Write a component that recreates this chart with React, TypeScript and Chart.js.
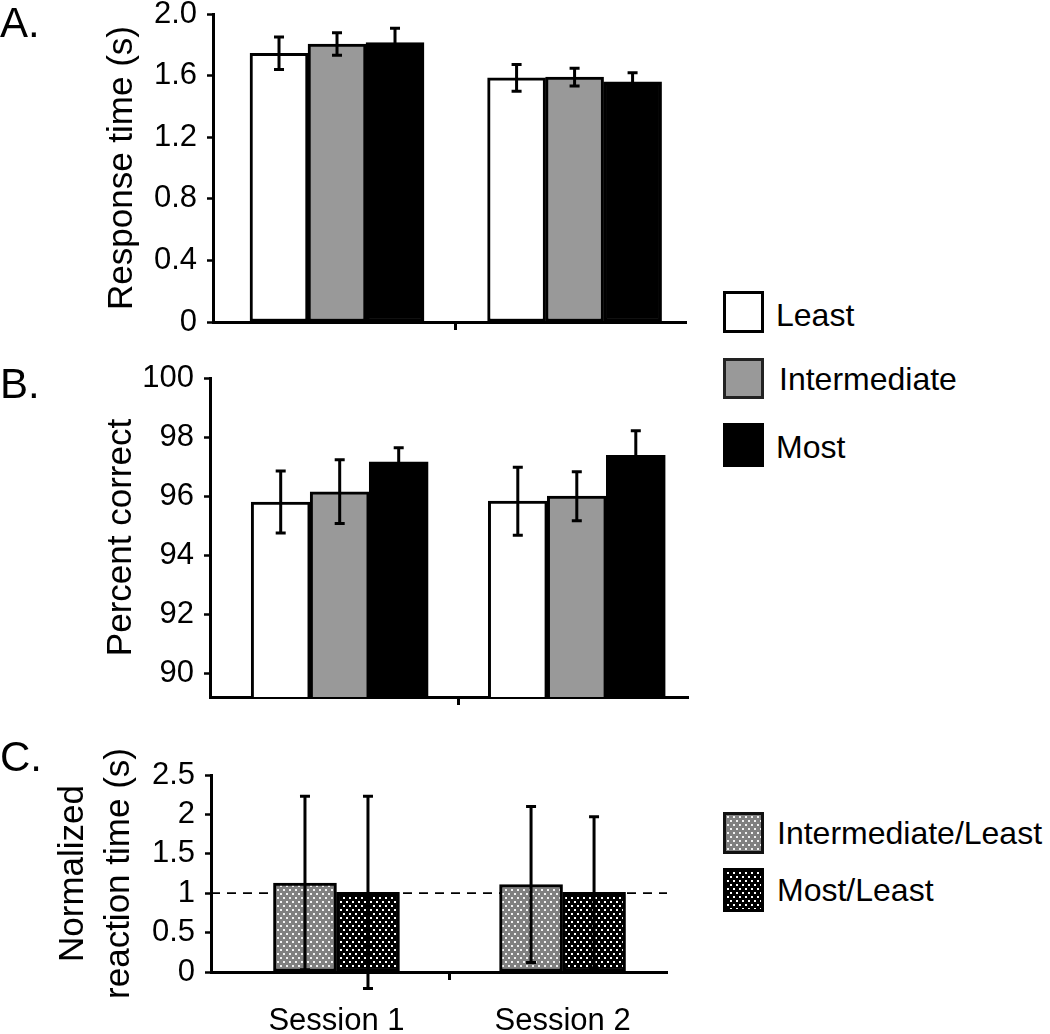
import React, { useEffect, useRef, useState } from 'react';
import { Chart, registerables } from 'chart.js';

Chart.register(...registerables);

// ---------- data ----------
const sessions = ['Session 1', 'Session 2'];
const sessionPos = [1, 2];
const dividerPos = 1.5;

const conditionLabels = ['Least', 'Intermediate', 'Most'];
const ratioLabels = ['Intermediate/Least', 'Most/Least'];

// Panel A: response time (s)
const rtLeast = [1.745, 1.585];
const rtLeastErr = [0.106, 0.087];
const rtInter = [1.805, 1.59];
const rtInterErr = [0.073, 0.057];
const rtMost = [1.814, 1.559];
const rtMostErr = [0.093, 0.06];
const rtTicks = [0, 0.4, 0.8, 1.2, 1.6, 2.0];
const rtTickLabels = ['0', '0.4', '0.8', '1.2', '1.6', '2.0'];

// Panel B: percent correct
const pcLeast = [95.8, 95.83];
const pcLeastErr = [1.05, 1.15];
const pcInter = [96.15, 96.0];
const pcInterErr = [1.08, 0.83];
const pcMost = [97.16, 97.38];
const pcMostErr = [0.48, 0.83];
const pcTicks = [90, 92, 94, 96, 98, 100];
const pcTickLabels = ['90', '92', '94', '96', '98', '100'];

// Panel C: normalized reaction time (s)
const nrtInter = [1.13, 1.11];
const nrtInterErr = [1.1, 0.99];
const nrtMost = [1.01, 1.01];
const nrtMostErr = [1.22, 0.96];
const nrtTicks = [0, 0.5, 1, 1.5, 2, 2.5];
const nrtTickLabels = ['0', '0.5', '1', '1.5', '2', '2.5'];
const nrtReference = 1;

// ---------- styling ----------
const FAMILY = "'Liberation Sans', Arial, Helvetica, sans-serif";
const tickFont = { family: FAMILY, size: 31 };
const titleFont = { family: FAMILY, size: 35, lineHeight: 1.2 };

function makeDots(bg: string, dot: string): HTMLCanvasElement {
  const c = document.createElement('canvas');
  c.width = 6;
  c.height = 8;
  const g = c.getContext('2d')!;
  g.fillStyle = bg;
  g.fillRect(0, 0, 6, 8);
  g.fillStyle = dot;
  g.fillRect(1, 1, 2, 2);
  g.fillRect(4, 5, 2, 2);
  return c;
}

const errorBarPlugin = {
  id: 'errorBars',
  afterDatasetsDraw(chart: any, _args: any, opts: any) {
    const { ctx } = chart;
    const yScale = chart.scales.y;
    const cap = opts.cap ?? 5;
    chart.data.datasets.forEach((ds: any, di: number) => {
      const errs: number[] | undefined = ds.errors;
      if (!errs) return;
      const meta = chart.getDatasetMeta(di);
      meta.data.forEach((bar: any, i: number) => {
        const v = ds.data[i].y;
        const hi = yScale.getPixelForValue(v + errs[i]);
        const lo = yScale.getPixelForValue(v - errs[i]);
        ctx.save();
        ctx.strokeStyle = '#000';
        ctx.lineWidth = opts.width ?? 3;
        ctx.beginPath();
        ctx.moveTo(bar.x, hi);
        ctx.lineTo(bar.x, lo);
        ctx.moveTo(bar.x - cap, hi);
        ctx.lineTo(bar.x + cap, hi);
        ctx.moveTo(bar.x - cap, lo);
        ctx.lineTo(bar.x + cap, lo);
        ctx.stroke();
        ctx.restore();
      });
    });
  },
};

const refLinePlugin = {
  id: 'refLine',
  beforeDatasetsDraw(chart: any, _args: any, opts: any) {
    if (opts.value === undefined) return;
    const { ctx, chartArea } = chart;
    const y = chart.scales.y.getPixelForValue(opts.value);
    ctx.save();
    ctx.strokeStyle = '#000';
    ctx.lineWidth = 1.8;
    ctx.setLineDash([9, 7]);
    ctx.beginPath();
    ctx.moveTo(chartArea.left, y);
    ctx.lineTo(chartArea.right, y);
    ctx.stroke();
    ctx.restore();
  },
};

function points(vals: number[]) {
  return sessionPos.map((x, i) => ({ x, y: vals[i] }));
}

function zeroPad(ax: any) {
  ax.paddingTop = 0;
  ax.paddingBottom = 0;
  ax.paddingLeft = 0;
  ax.paddingRight = 0;
}

function yAxis(min: number, max: number, ticks: number[], labels: string[], width: number, title: string | string[], titlePad: number, lineHeight = 1.2) {
  return {
    type: 'linear',
    min,
    max,
    afterBuildTicks: (ax: any) => {
      ax.ticks = ticks.map((v) => ({ value: v }));
    },
    afterFit: (ax: any) => {
      ax.width = width;
      zeroPad(ax);
    },
    ticks: {
      autoSkip: false,
      callback: (_v: any, i: number) => labels[i],
      font: tickFont,
      color: '#000',
      padding: 10,
    },
    grid: {
      display: true,
      drawOnChartArea: false,
      drawTicks: true,
      tickLength: 6,
      tickWidth: 2.5,
      tickColor: '#000',
    },
    border: { display: true, color: '#000', width: 3 },
    title: {
      display: true,
      text: title,
      color: '#000',
      font: { ...titleFont, lineHeight },
      padding: { top: titlePad, bottom: 0 },
    },
  };
}

function xAxis(min: number, max: number, height: number, withLabels: boolean) {
  const tickVals = withLabels ? [sessionPos[0], dividerPos, sessionPos[1]] : [dividerPos];
  return {
    type: 'linear',
    min,
    max,
    offset: false,
    afterBuildTicks: (ax: any) => {
      ax.ticks = tickVals.map((v) => ({ value: v }));
    },
    afterFit: (ax: any) => {
      ax.height = height;
      zeroPad(ax);
    },
    ticks: {
      display: withLabels,
      autoSkip: false,
      maxRotation: 0,
      callback: (v: any) => {
        const k = sessionPos.indexOf(v);
        return k >= 0 ? sessions[k] : '';
      },
      font: { family: FAMILY, size: 31 },
      color: '#000',
      padding: 23,
    },
    grid: {
      display: true,
      offset: false,
      drawOnChartArea: false,
      drawTicks: true,
      tickLength: 8,
      tickWidth: 3,
      tickColor: (ctx: any) => (ctx.tick && ctx.tick.value === dividerPos ? '#000' : 'rgba(0,0,0,0)'),
    },
    border: { display: true, color: '#000', width: 3 },
  };
}

function barDataset(label: string, vals: number[], errs: number[], fill: any, thickness: number) {
  return {
    label,
    data: points(vals),
    errors: errs,
    backgroundColor: fill,
    borderColor: '#000',
    borderWidth: 3,
    borderSkipped: false,
    barThickness: thickness,
  };
}

function baseOptions(padding: any, scales: any, extra: any = {}) {
  return {
    responsive: false,
    animation: false,
    events: [],
    layout: { padding },
    plugins: {
      legend: { display: false },
      tooltip: { enabled: false },
      errorBars: { cap: 5, width: 3 },
      ...extra,
    },
    scales,
  };
}

function configA() {
  return {
    type: 'bar',
    data: {
      datasets: [
        barDataset(conditionLabels[0], rtLeast, rtLeastErr, '#ffffff', 58),
        barDataset(conditionLabels[1], rtInter, rtInterErr, '#999999', 58),
        barDataset(conditionLabels[2], rtMost, rtMostErr, '#000000', 58),
      ],
    },
    options: baseOptions({ top: 14, right: 14, left: 0, bottom: 0 }, {
      x: xAxis(0.478, 2.469, 18, false),
      y: yAxis(0, 2.0, rtTicks, rtTickLabels, 213, 'Response time (s)', 101),
    }),
    plugins: [errorBarPlugin],
  };
}

function configB() {
  return {
    type: 'bar',
    data: {
      datasets: [
        barDataset(conditionLabels[0], pcLeast, pcLeastErr, '#ffffff', 59),
        barDataset(conditionLabels[1], pcInter, pcInterErr, '#999999', 59),
        barDataset(conditionLabels[2], pcMost, pcMostErr, '#000000', 59),
      ],
    },
    options: baseOptions({ top: 38, right: 12, left: 0, bottom: 0 }, {
      x: xAxis(0.453, 2.469, 13, false),
      y: yAxis(89.2, 100, pcTicks, pcTickLabels, 210, 'Percent correct', 100),
    }),
    plugins: [errorBarPlugin],
  };
}

function configC(grayDots: any, blackDots: any) {
  return {
    type: 'bar',
    data: {
      datasets: [
        barDataset(ratioLabels[0], nrtInter, nrtInterErr, grayDots, 63),
        barDataset(ratioLabels[1], nrtMost, nrtMostErr, blackDots, 63),
      ],
    },
    options: baseOptions({ top: 55, right: 33, left: 0, bottom: 0 }, {
      x: xAxis(0.445, 2.462, 62, true),
      y: yAxis(0, 2.5, nrtTicks, nrtTickLabels, 211, ['Normalized', 'reaction time (s)'], 51, 1.3),
    }, { refLine: { value: nrtReference } }),
    plugins: [refLinePlugin, errorBarPlugin],
  };
}

function ChartCanvas({ make, left, top, width, height }: any) {
  const ref = useRef<HTMLCanvasElement>(null);
  useEffect(() => {
    const chart = new Chart(ref.current as HTMLCanvasElement, make());
    return () => chart.destroy();
  }, []);
  return (
    <canvas
      ref={ref}
      width={width}
      height={height}
      style={{ position: 'absolute', left, top, width, height }}
    />
  );
}

const textBase: React.CSSProperties = {
  position: 'absolute',
  fontFamily: FAMILY,
  color: '#000',
  lineHeight: 1,
  whiteSpace: 'nowrap',
};

function Label({ text, left, center, size }: { text: string; left: number; center: number; size: number }) {
  return <div style={{ ...textBase, left, top: center - 0.49 * size, fontSize: size }}>{text}</div>;
}

function Swatch({ left, top, w, h, bg, border }: any) {
  return (
    <div
      style={{
        position: 'absolute',
        left,
        top,
        width: w,
        height: h,
        boxSizing: 'border-box',
        border: `3.5px solid ${border}`,
        background: bg,
      }}
    />
  );
}

export default function App() {
  const [pats] = useState(() => {
    const g = makeDots('#808080', '#f2f2f2');
    const b = makeDots('#000000', '#ffffff');
    return { g, b, gUrl: g.toDataURL(), bUrl: b.toDataURL() };
  });

  const makeC = () => {
    const tmp = document.createElement('canvas').getContext('2d')!;
    return configC(tmp.createPattern(pats.g, 'repeat'), tmp.createPattern(pats.b, 'repeat'));
  };

  return (
    <div style={{ position: 'absolute', left: 0, top: 0, width: 1050, height: 1034, background: '#fff', overflow: 'hidden' }}>
      <ChartCanvas make={configA} left={0} top={0} width={700} height={340} />
      <ChartCanvas make={configB} left={0} top={340} width={700} height={370} />
      <ChartCanvas make={makeC} left={0} top={720} width={700} height={314} />

      <Label text="A." left={0} center={23} size={42} />
      <Label text="B." left={0} center={384} size={42} />
      <Label text="C." left={0} center={757} size={42} />

      <Swatch left={723} top={291} w={41} h={42} bg="#ffffff" border="#000" />
      <Label text={conditionLabels[0]} left={776} center={315} size={32} />
      <Swatch left={723} top={358} w={41} h={41} bg="#999999" border="#222" />
      <Label text={conditionLabels[1]} left={779} center={379} size={32} />
      <Swatch left={723} top={423} w={41} h={44} bg="#000000" border="#000" />
      <Label text={conditionLabels[2]} left={776} center={447} size={32} />

      <Swatch left={723} top={812} w={41} h={42} bg={`url(${pats.gUrl})`} border="#111" />
      <Label text={ratioLabels[0]} left={777} center={833} size={32} />
      <Swatch left={723} top={868} w={41} h={44} bg={`url(${pats.bUrl})`} border="#000" />
      <Label text={ratioLabels[1]} left={777} center={890} size={32} />
    </div>
  );
}
